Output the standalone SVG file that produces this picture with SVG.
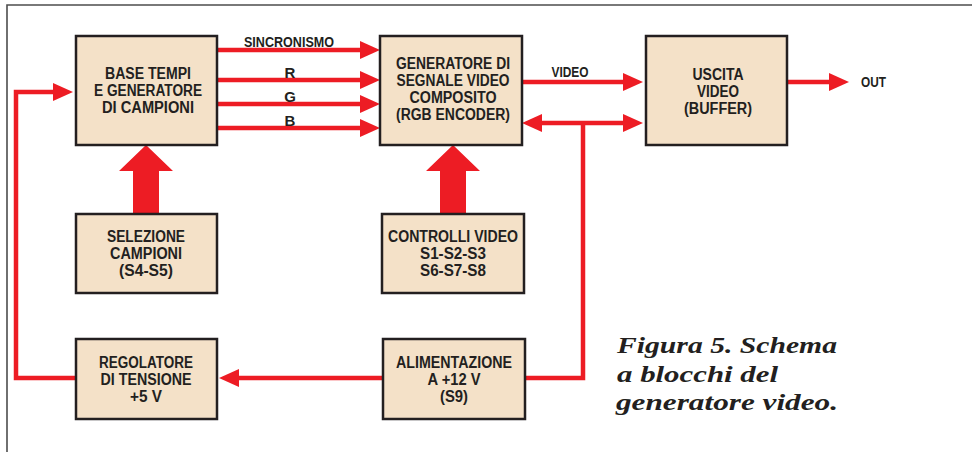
<svg xmlns="http://www.w3.org/2000/svg" width="972" height="452" viewBox="0 0 972 452">
<style>
.box{fill:#F4E1C8;stroke:#231F20;stroke-width:2.5}
.t{font-family:"Liberation Sans",Arial,sans-serif;font-weight:bold;font-size:16px;fill:#231F20;text-anchor:middle}
.l{font-family:"Liberation Sans",Arial,sans-serif;font-weight:bold;font-size:15px;fill:#231F20;text-anchor:middle}
.w{fill:none;stroke:#ED1C24;stroke-width:4.5}
.big{fill:#ED1C24}
.cap{font-family:"Liberation Serif","Times New Roman",serif;font-weight:bold;font-style:italic;font-size:24px;fill:#231F20}
</style>
<defs>
<marker id="ah" viewBox="0 0 20 18" refX="2" refY="9" markerWidth="20" markerHeight="18" markerUnits="userSpaceOnUse" orient="auto-start-reverse">
<path d="M0,0 L20,9 L0,18 Z" fill="#ED1C24"/>
</marker>
</defs>
<rect width="972" height="452" fill="#fff"/>
<path d="M7,452 V5 H972" fill="none" stroke="#4D4D4D" stroke-width="1.6"/>

<g id="connectors">
<path class="w" d="M217,50 H362" marker-end="url(#ah)"/>
<path class="w" d="M217,80 H362" marker-end="url(#ah)"/>
<path class="w" d="M217,104 H362" marker-end="url(#ah)"/>
<path class="w" d="M217,128 H362" marker-end="url(#ah)"/>
<path class="w" d="M522,82 H625" marker-end="url(#ah)"/>
<path class="w" d="M787,82 H831" marker-end="url(#ah)"/>
<path class="w" d="M540,123 H625" marker-start="url(#ah)" marker-end="url(#ah)"/>
<path class="w" d="M525,378 H583 V123"/>
<path class="w" d="M383,378 H237" marker-end="url(#ah)"/>
<path class="w" d="M76,378 H16 V92 H55" marker-end="url(#ah)"/>
<polygon class="big" points="133,214 133,171 119,171 146,145 173,171 159,171 159,214"/>
<polygon class="big" points="440,214 440,171 426,171 453,145 480,171 466,171 466,214"/>
<text class="l" x="289" y="47" textLength="90" lengthAdjust="spacingAndGlyphs">SINCRONISMO</text>
<text class="l" x="290" y="78">R</text>
<text class="l" x="290" y="102">G</text>
<text class="l" x="290" y="126">B</text>
<text class="l" x="570" y="77" textLength="37" lengthAdjust="spacingAndGlyphs">VIDEO</text>
<text class="l" x="861" y="87" textLength="25" lengthAdjust="spacingAndGlyphs" style="text-anchor:start">OUT</text>
</g>

<g id="base-tempi">
<rect class="box" x="76" y="36" width="141" height="109"/>
<text class="t" x="148" y="79" textLength="86" lengthAdjust="spacingAndGlyphs">BASE TEMPI</text>
<text class="t" x="148" y="96" textLength="108" lengthAdjust="spacingAndGlyphs">E GENERATORE</text>
<text class="t" x="148" y="113" textLength="92" lengthAdjust="spacingAndGlyphs">DI CAMPIONI</text>
</g>

<g id="generatore">
<rect class="box" x="380" y="36" width="142" height="109"/>
<text class="t" x="453" y="69" textLength="114" lengthAdjust="spacingAndGlyphs">GENERATORE DI</text>
<text class="t" x="453" y="86" textLength="113" lengthAdjust="spacingAndGlyphs">SEGNALE VIDEO</text>
<text class="t" x="453" y="103" textLength="87" lengthAdjust="spacingAndGlyphs">COMPOSITO</text>
<text class="t" x="453" y="120" textLength="114" lengthAdjust="spacingAndGlyphs">(RGB ENCODER)</text>
</g>

<g id="uscita">
<rect class="box" x="646" y="36" width="141" height="109"/>
<text class="t" x="718" y="80" textLength="51" lengthAdjust="spacingAndGlyphs">USCITA</text>
<text class="t" x="718" y="97" textLength="42" lengthAdjust="spacingAndGlyphs">VIDEO</text>
<text class="t" x="718" y="114" textLength="68" lengthAdjust="spacingAndGlyphs">(BUFFER)</text>
</g>

<g id="selezione">
<rect class="box" x="76" y="214" width="141" height="79"/>
<text class="t" x="146" y="242" textLength="78" lengthAdjust="spacingAndGlyphs">SELEZIONE</text>
<text class="t" x="146" y="259" textLength="72" lengthAdjust="spacingAndGlyphs">CAMPIONI</text>
<text class="t" x="146" y="276" textLength="54" lengthAdjust="spacingAndGlyphs">(S4-S5)</text>
</g>

<g id="controlli">
<rect class="box" x="382" y="214" width="142" height="79"/>
<text class="t" x="453" y="242" textLength="130" lengthAdjust="spacingAndGlyphs">CONTROLLI VIDEO</text>
<text class="t" x="453" y="259" textLength="66" lengthAdjust="spacingAndGlyphs">S1-S2-S3</text>
<text class="t" x="453" y="276" textLength="66" lengthAdjust="spacingAndGlyphs">S6-S7-S8</text>
</g>

<g id="regolatore">
<rect class="box" x="76" y="339" width="141" height="80"/>
<text class="t" x="146" y="368" textLength="94" lengthAdjust="spacingAndGlyphs">REGOLATORE</text>
<text class="t" x="146" y="385" textLength="91" lengthAdjust="spacingAndGlyphs">DI TENSIONE</text>
<text class="t" x="146" y="402" textLength="32" lengthAdjust="spacingAndGlyphs">+5 V</text>
</g>

<g id="alimentazione">
<rect class="box" x="383" y="339" width="142" height="80"/>
<text class="t" x="454" y="368" textLength="116" lengthAdjust="spacingAndGlyphs">ALIMENTAZIONE</text>
<text class="t" x="454" y="385" textLength="53" lengthAdjust="spacingAndGlyphs">A +12 V</text>
<text class="t" x="454" y="402" textLength="28" lengthAdjust="spacingAndGlyphs">(S9)</text>
</g>

<g id="caption">
<text class="cap" x="617" y="353" textLength="220" lengthAdjust="spacingAndGlyphs">Figura 5. Schema</text>
<text class="cap" x="617" y="382" textLength="161" lengthAdjust="spacingAndGlyphs">a blocchi del</text>
<text class="cap" x="616" y="410" textLength="222" lengthAdjust="spacingAndGlyphs">generatore video.</text>
</g>
</svg>
